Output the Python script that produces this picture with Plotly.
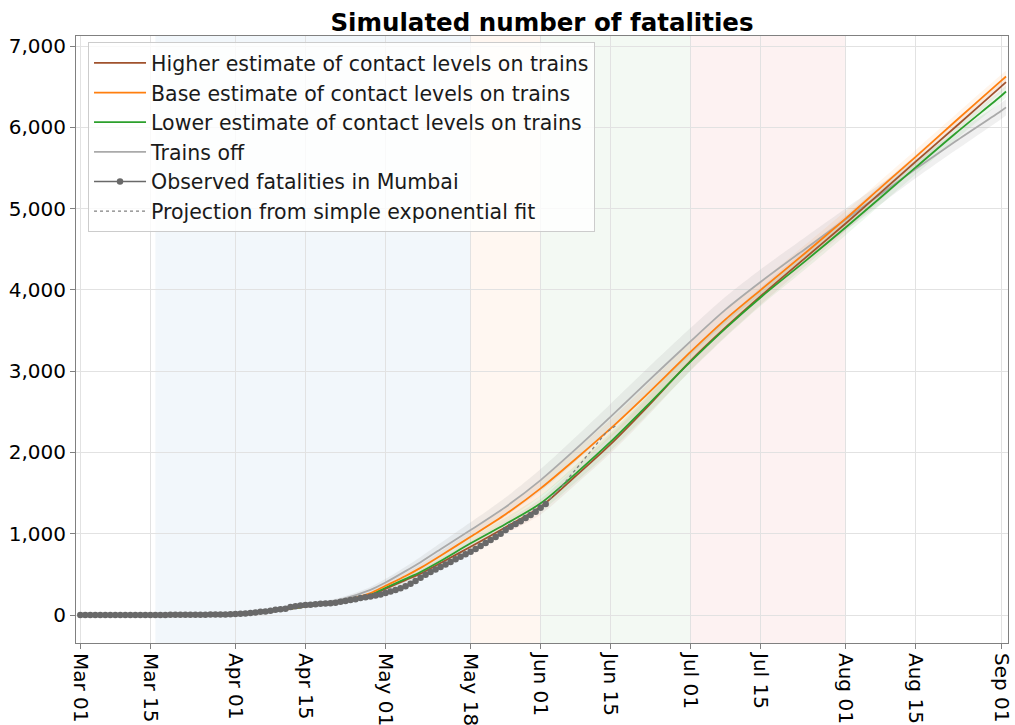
import pandas as pd
import plotly.graph_objects as go

# Simulation output dates and cumulative fatalities per scenario
sim_dates = ["2020-03-01", "2020-03-15", "2020-03-25", "2020-04-01", "2020-04-08",
             "2020-04-15", "2020-04-22", "2020-04-28", "2020-05-01", "2020-05-05",
             "2020-05-08", "2020-05-12", "2020-05-18", "2020-05-25", "2020-06-01",
             "2020-06-08", "2020-06-15", "2020-06-22", "2020-07-01", "2020-07-08",
             "2020-07-15", "2020-07-24", "2020-08-01", "2020-08-08", "2020-08-15",
             "2020-08-23", "2020-09-01", "2020-09-02"]

higher_est = [0, 0, 2, 12, 41, 103, 158, 242, 322, 430, 510, 640, 840, 1080, 1332,
              1710, 2103, 2540, 3130, 3540, 3925, 4400, 4820, 5200, 5580, 6010, 6500, 6555]
base_est = [0, 0, 2, 13, 45, 108, 170, 270, 360, 480, 580, 730, 963, 1240, 1558,
            1920, 2296, 2700, 3240, 3640, 4000, 4460, 4879, 5260, 5640, 6080, 6570, 6625]
lower_est = [0, 0, 2, 12, 42, 105, 162, 250, 335, 445, 530, 665, 882, 1120, 1374,
             1740, 2132, 2560, 3120, 3530, 3910, 4360, 4770, 5140, 5510, 5930, 6385, 6440]
trains_off = [0, 0, 2, 15, 50, 115, 190, 310, 400, 540, 650, 810, 1045, 1330, 1660,
              2040, 2440, 2850, 3370, 3760, 4100, 4510, 4870, 5180, 5490, 5830, 6200, 6245]

# Half-width of the uncertainty band around each scenario
band_sim = [0, 0, 0, 2, 5, 10, 16, 24, 30, 38, 45, 52, 65, 80, 95,
            105, 110, 115, 115, 110, 105, 100, 95, 90, 85, 80, 75, 75]
band_off = [0, 0, 0, 3, 8, 15, 25, 35, 45, 55, 65, 75, 95, 115, 135,
            150, 160, 165, 165, 160, 155, 145, 135, 125, 115, 110, 100, 100]

# Observed daily cumulative fatalities in Mumbai, from 1 March
obs_start = "2020-03-01"
obs_deaths = [0, 0, 0, 0, 0, 0, 0, 0, 0, 0, 0, 0, 0, 0, 0, 0,
              1, 1, 2, 2, 3, 3, 4, 4, 5, 5, 6, 7, 7, 8, 9,
              12, 16, 19, 24, 30, 40, 45, 54, 64, 70, 78, 100, 108, 116, 123,
              128, 133, 138, 141, 145, 152, 164, 174, 184, 195, 210, 218, 228, 240, 253,
              270, 288, 308, 330, 355, 385, 420, 460, 495, 530, 560, 592, 622, 652, 685,
              717, 748, 779, 812, 848, 885, 922, 960, 1000, 1045, 1086, 1120, 1155, 1195,
              1230, 1270, 1320, 1365]

# Projection from a simple exponential fit
proj_dates = ["2020-06-02", "2020-06-05", "2020-06-08", "2020-06-11", "2020-06-14", "2020-06-16"]
proj_deaths = [1365, 1570, 1790, 2020, 2240, 2330]

# Policy periods shaded in the background
period_start = ["2020-03-16", "2020-05-18", "2020-06-01", "2020-07-01"]
period_end = ["2020-05-18", "2020-06-01", "2020-07-01", "2020-08-01"]
period_fill = ["rgba(31,119,180,0.06)", "rgba(255,127,14,0.06)",
               "rgba(44,160,44,0.06)", "rgba(214,39,40,0.06)"]

tick_dates = ["2020-03-01", "2020-03-15", "2020-04-01", "2020-04-15", "2020-05-01",
              "2020-05-18", "2020-06-01", "2020-06-15", "2020-07-01", "2020-07-15",
              "2020-08-01", "2020-08-15", "2020-09-01"]
tick_text = ["Mar 01", "Mar 15", "Apr 01", "Apr 15", "May 01", "May 18", "Jun 01",
             "Jun 15", "Jul 01", "Jul 15", "Aug 01", "Aug 15", "Sep 01"]

FONT = "DejaVu Sans"

fig = go.Figure()

scenarios = [
    ("Trains off", trains_off, band_off, "#aaaaaa", "rgba(160,160,160,0.16)", 4),
    ("Higher estimate of contact levels on trains", higher_est, band_sim, "#a0522d",
     "rgba(160,82,45,0.08)", 1),
    ("Lower estimate of contact levels on trains", lower_est, band_sim, "#2ca02c",
     "rgba(44,160,44,0.08)", 3),
    ("Base estimate of contact levels on trains", base_est, band_sim, "#ff7f0e",
     "rgba(255,127,14,0.08)", 2),
]

# Uncertainty bands
for name, vals, band, color, fill, rank in scenarios:
    upper = [v + b for v, b in zip(vals, band)]
    lower = [v - b for v, b in zip(vals, band)]
    fig.add_trace(go.Scatter(x=sim_dates, y=upper, mode="lines",
                             line=dict(width=0, shape="spline", smoothing=0.8),
                             showlegend=False, hoverinfo="skip"))
    fig.add_trace(go.Scatter(x=sim_dates, y=lower, mode="lines",
                             line=dict(width=0, shape="spline", smoothing=0.8),
                             fill="tonexty", fillcolor=fill, showlegend=False,
                             hoverinfo="skip"))

# Scenario lines
for name, vals, band, color, fill, rank in scenarios:
    fig.add_trace(go.Scatter(x=sim_dates, y=vals, mode="lines", name=name,
                             line=dict(color=color, width=1.8, shape="spline",
                                       smoothing=0.8),
                             legendrank=rank))

fig.add_trace(go.Scatter(
    x=proj_dates, y=proj_deaths, mode="lines",
    name="Projection from simple exponential fit",
    line=dict(color="#808080", width=1.3, dash="dot"), legendrank=6))

fig.add_trace(go.Scatter(
    x=pd.date_range(obs_start, periods=len(obs_deaths)), y=obs_deaths,
    mode="lines+markers", name="Observed fatalities in Mumbai",
    line=dict(color="#696969", width=1.5), marker=dict(color="#696969", size=6.5),
    legendrank=5))

for s, e, c in zip(period_start, period_end, period_fill):
    fig.add_shape(type="rect", xref="x", yref="paper", x0=s, x1=e, y0=0, y1=1,
                  fillcolor=c, line=dict(width=0), layer="below")

fig.update_layout(
    width=1015, height=725,
    margin=dict(l=76, r=7, t=36, b=82),
    paper_bgcolor="white", plot_bgcolor="white",
    font=dict(family=FONT, size=20, color="black"),
    title=dict(text="<b>Simulated number of fatalities</b>", x=0.534, xanchor="center",
               y=1 - 22 / 725, yanchor="middle", yref="container",
               font=dict(family=FONT, size=24.5, color="black")),
    legend=dict(x=0.0129, y=0.99, xanchor="left", yanchor="top",
                traceorder="normal",
                bgcolor="rgba(255,255,255,0.8)", bordercolor="#cccccc", borderwidth=1,
                font=dict(family=FONT, size=20.5, color="#1a1a1a"),
                itemwidth=52),
    showlegend=True,
)

fig.update_xaxes(
    type="date", automargin=False,
    range=["2020-02-29 03:20", "2020-09-02 09:30"],
    tickvals=tick_dates, ticktext=tick_text, tickangle=90,
    showgrid=True, gridcolor="#e2e2e2", gridwidth=1,
    showline=True, linecolor="#808080", linewidth=1, mirror=True,
    ticks="outside", ticklen=5, tickcolor="#808080",
    tickfont=dict(family=FONT, size=20, color="black"), zeroline=False,
)
fig.update_yaxes(
    automargin=False,
    range=[-344, 7123], tickvals=[0, 1000, 2000, 3000, 4000, 5000, 6000, 7000],
    tickformat=",", showgrid=True, gridcolor="#e2e2e2", gridwidth=1,
    showline=True, linecolor="#808080", linewidth=1, mirror=True,
    ticks="outside", ticklen=5, tickcolor="#808080",
    tickfont=dict(family=FONT, size=20, color="black"), zeroline=False,
)

fig.write_html("out.html")
